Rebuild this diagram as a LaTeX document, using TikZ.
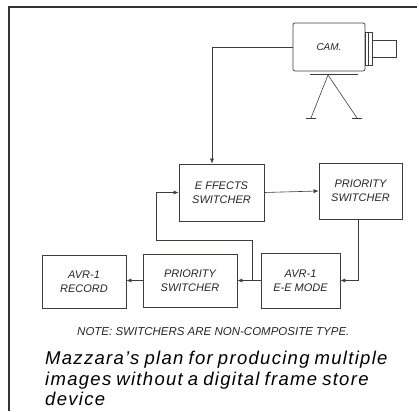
\documentclass[tikz,border=0pt]{standalone}
\usepackage{fontspec}
\setmainfont{Liberation Sans}
\newfontfamily\capfont[Ligatures=TeX,LetterSpace=7,WordSpace=0.8]{Liberation Sans}
\usetikzlibrary{arrows.meta}
\definecolor{ink}{rgb}{0.22,0.25,0.22}

\begin{document}
\begin{tikzpicture}[x=1pt, y=-1pt,
    box/.style={draw=ink, line width=0.7pt, minimum width=#1, inner sep=1pt, align=center, font=\itshape\fontsize{11}{14}\selectfont, text=black!85},
    box/.default=84pt,
    arr/.style={-{Latex[length=5pt,width=4pt]}, draw=ink, line width=0.6pt},
    wire/.style={draw=ink, line width=0.6pt}
]
\useasboundingbox (0,0) rectangle (419,411);
% frame
\draw[black!80, line width=1.2pt] (9,411) -- (9,7) -- (417,7);

% camera on its tripod
\node[box=72pt, minimum height=48pt, rounded corners=2pt, font=\itshape\fontsize{10}{12}\selectfont] (cam) at (329,47) {CAM.};
\draw[wire] (365,32) rectangle (372,65);
\draw[wire] (368,32) -- (368,65);
\draw[wire] (372,40) rectangle (396,57);
\draw[wire] (310,74) -- (358,74);
\draw[wire] (311,118) -- (328,75) -- (357,118);
\draw[wire] (306,118) -- (316,118) (352,118) -- (362,118);

% switchers and recorders
\node[box=85pt, minimum height=57pt] (eff) at (221.5,192.5) {E FFECTS\\SWITCHER};
\node[box=83pt, minimum height=56pt] (pri) at (360.5,191) {PRIORITY\\SWITCHER};
\node[box=79pt, minimum height=55pt] (ee) at (300.5,280.5) {AVR-1\\E-E MODE};
\node[box=94pt, minimum height=53pt] (pri2) at (190,280.5) {PRIORITY\\SWITCHER};
\node[box=84pt, minimum height=53pt] (rec) at (84,281.5) {AVR-1\\RECORD};

\draw[arr] (cam.west) -| ([xshift=-9.5pt]eff.north);
\draw[arr] (eff.east) -- (pri.west);
\draw[arr] ([xshift=-2.5pt]pri.south) |- (ee.east);
\draw[arr] (ee.west) -- (pri2.east);
\draw[arr] (pri2.west) -- (rec.east |- pri2.west);

% loop back into the effects switcher
\coordinate (tap) at (252,280.5);
\coordinate (fb) at (156,240);
\draw[arr] (tap) |- (fb) |- (eff.west);

\node[anchor=west, inner sep=0pt, text=black!85, font=\itshape\fontsize{11.5}{13}\selectfont] (note) at (77,332) {NOTE: SWITCHERS ARE NON-COMPOSITE TYPE.};
\node[anchor=north west, align=left, inner sep=0pt, font=\capfont\itshape\fontsize{18.5}{20.5}\selectfont] (cap) at (45,351)
  {Mazzara's plan for producing multiple\\images without a digital frame store\\device};
\end{tikzpicture}
\end{document}
